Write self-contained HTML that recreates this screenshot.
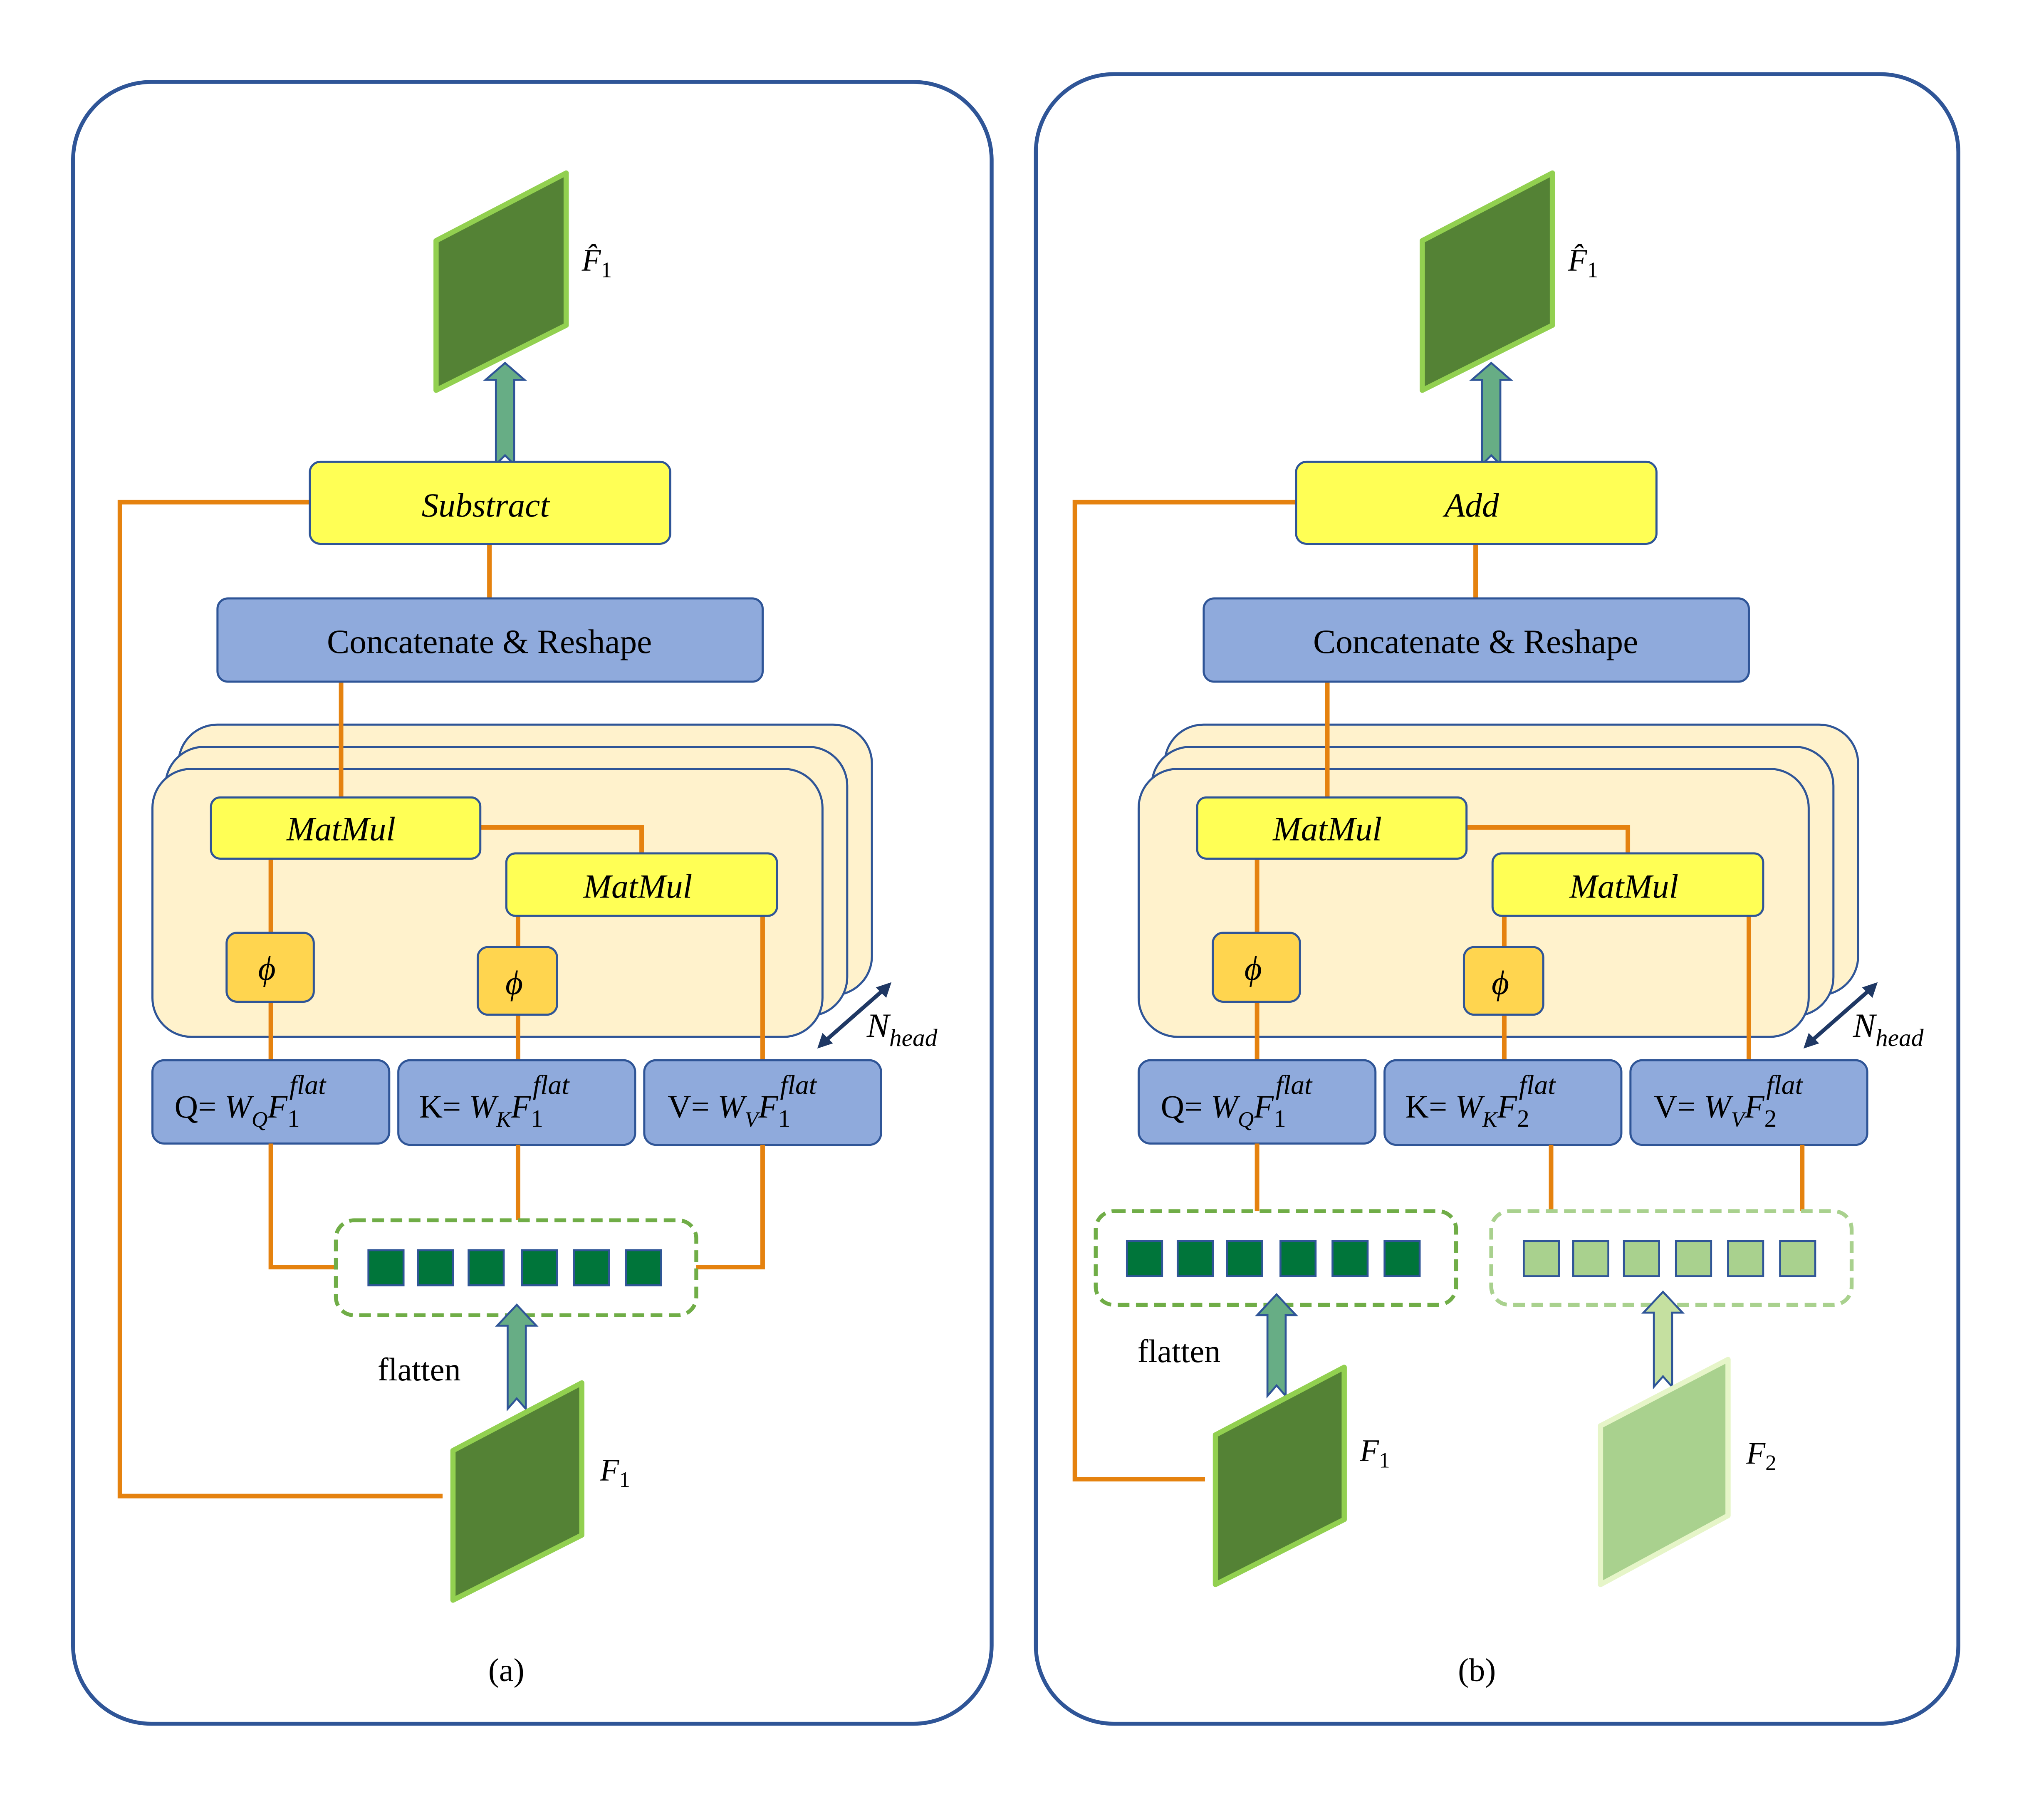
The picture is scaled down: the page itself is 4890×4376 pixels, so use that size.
<!DOCTYPE html>
<html><head><meta charset="utf-8"><style>
html,body{margin:0;padding:0;background:#fff}
svg{display:block}
text{font-family:"Liberation Serif",serif}
.m{font-style:italic}
</style></head><body>
<svg width="4890" height="4376" viewBox="0 0 1563 1399" xmlns="http://www.w3.org/2000/svg">
<defs>
<g id="panel">
  <!-- stacked cards -->
  <rect x="137" y="557" width="533" height="208" rx="30" fill="#FFF2CC" stroke="#2F5597" stroke-width="1.6"/>
  <rect x="127" y="574" width="524" height="207" rx="30" fill="#FFF2CC" stroke="#2F5597" stroke-width="1.6"/>
  <rect x="117" y="591" width="515" height="206" rx="30" fill="#FFF2CC" stroke="#2F5597" stroke-width="1.6"/>
  <!-- orange lines -->
  <g stroke="#E5820F" stroke-width="3.5" fill="none">
    <line x1="376" y1="418" x2="376" y2="460"/>
    <line x1="262" y1="524" x2="262" y2="613"/>
    <polyline points="369,636 493,636 493,656"/>
    <line x1="208" y1="660" x2="208" y2="815"/>
    <line x1="398" y1="704" x2="398" y2="815"/>
    <line x1="586" y1="704" x2="586" y2="815"/>
  </g>
  <!-- Concatenate -->
  <rect x="167" y="460" width="419" height="64" rx="8" fill="#8FAADC" stroke="#2F5597" stroke-width="1.6"/>
  <text x="376" y="502" font-size="26" text-anchor="middle">Concatenate &amp; Reshape</text>
  <!-- MatMul -->
  <rect x="162" y="613" width="207" height="47" rx="7" fill="#FFFF55" stroke="#2F5597" stroke-width="1.6"/>
  <text x="262" y="646" font-size="26" text-anchor="middle" class="m">MatMul</text>
  <rect x="389" y="656" width="208" height="48" rx="7" fill="#FFFF55" stroke="#2F5597" stroke-width="1.6"/>
  <text x="490" y="690" font-size="26" text-anchor="middle" class="m">MatMul</text>
  <!-- phi -->
  <rect x="174" y="717" width="67" height="53" rx="8" fill="#FFD54F" stroke="#2F5597" stroke-width="1.6"/>
  <text x="205" y="753" font-size="26" text-anchor="middle" class="m">ϕ</text>
  <rect x="367" y="728" width="61" height="52" rx="8" fill="#FFD54F" stroke="#2F5597" stroke-width="1.6"/>
  <text x="395" y="764" font-size="26" text-anchor="middle" class="m">ϕ</text>
  <!-- N_head -->
  <line x1="632" y1="802" x2="681" y2="759" stroke="#1F3864" stroke-width="3"/>
  <polygon points="628,806 632,794 640,802" fill="#1F3864"/>
  <polygon points="685,755 681,767 673,759" fill="#1F3864"/>
  <text x="666" y="797" font-size="26" class="m">N<tspan font-size="19" dy="7">head</tspan></text>
  <!-- Q K V boxes -->
  <rect x="117" y="815" width="182" height="64" rx="9" fill="#8FAADC" stroke="#2F5597" stroke-width="1.6"/>
  <rect x="306" y="815" width="182" height="65" rx="9" fill="#8FAADC" stroke="#2F5597" stroke-width="1.6"/>
  <rect x="495" y="815" width="182" height="65" rx="9" fill="#8FAADC" stroke="#2F5597" stroke-width="1.6"/>
  <!-- Output feature -->
  <polygon points="335,185 435,133 435,250 335,300" fill="#548235" stroke="#92D050" stroke-width="4" stroke-linejoin="round"/>
  <text x="447" y="208" font-size="24" class="m">F̂<tspan font-size="17" dy="5" font-style="normal">1</tspan></text>
  <polygon points="381,357 388,350 395,357 395,292 403,292 388,279 373,292 381,292" fill="#67AD85" stroke="#2F5597" stroke-width="1.5"/>
  <!-- top op box -->
  <rect x="238" y="355" width="277" height="63" rx="8" fill="#FFFF55" stroke="#2F5597" stroke-width="1.6"/>
</g>
</defs>

<!-- Panel frames -->
<rect x="56" y="63" width="706" height="1262" rx="60" fill="#fff" stroke="#2F5597" stroke-width="3"/>
<rect x="796" y="57" width="709" height="1268" rx="60" fill="#fff" stroke="#2F5597" stroke-width="3"/>

<!-- ===== Panel A ===== -->
<polyline points="340,1150 92,1150 92,386 238,386" fill="none" stroke="#E5820F" stroke-width="3.5"/>
<use href="#panel"/>
<text x="373" y="397" font-size="26" text-anchor="middle" class="m">Substract</text>
<text x="134" y="859" font-size="25">Q= <tspan class="m">W<tspan font-size="17" dy="7">Q</tspan><tspan dy="-7">F</tspan><tspan font-size="19" dy="7" font-style="normal">1</tspan><tspan font-size="21" dy="-25" dx="-8">flat</tspan></tspan></text>
<text x="322" y="859" font-size="25">K= <tspan class="m">W<tspan font-size="17" dy="7">K</tspan><tspan dy="-7">F</tspan><tspan font-size="19" dy="7" font-style="normal">1</tspan><tspan font-size="21" dy="-25" dx="-8">flat</tspan></tspan></text>
<text x="513" y="859" font-size="25">V= <tspan class="m">W<tspan font-size="17" dy="7">V</tspan><tspan dy="-7">F</tspan><tspan font-size="19" dy="7" font-style="normal">1</tspan><tspan font-size="21" dy="-25" dx="-8">flat</tspan></tspan></text>
<g stroke="#E5820F" stroke-width="3.5" fill="none">
  <polyline points="208,879 208,974 258,974"/>
  <line x1="398" y1="880" x2="398" y2="938"/>
  <polyline points="586,880 586,974 535,974"/>
</g>
<rect x="258" y="938" width="277" height="73" rx="14" fill="#fff" stroke="#70AD47" stroke-width="3" stroke-dasharray="9,5"/>
<g fill="#00753A" stroke="#2F5597" stroke-width="1.5">
  <rect x="283" y="961" width="27" height="27"/><rect x="321" y="961" width="27" height="27"/><rect x="360" y="961" width="27" height="27"/>
  <rect x="401" y="961" width="27" height="27"/><rect x="441" y="961" width="27" height="27"/><rect x="481" y="961" width="27" height="27"/>
</g>
<polygon points="390,1083 397,1075 404,1083 404,1019 412,1019 397,1003 382,1019 390,1019" fill="#67AD85" stroke="#2F5597" stroke-width="1.5"/>
<text x="322" y="1061" font-size="25" text-anchor="middle">flatten</text>
<polygon points="348,1115 447,1063 447,1180 348,1230" fill="#548235" stroke="#92D050" stroke-width="4" stroke-linejoin="round"/>
<text x="461" y="1138" font-size="24" class="m">F<tspan font-size="17" dy="5" font-style="normal">1</tspan></text>
<text x="389" y="1292" font-size="25" text-anchor="middle">(a)</text>

<!-- ===== Panel B ===== -->
<polyline points="926,1137 826,1137 826,386 996,386" fill="none" stroke="#E5820F" stroke-width="3.5"/>
<use href="#panel" transform="translate(758,0)"/>
<text x="1131" y="397" font-size="26" text-anchor="middle" class="m">Add</text>
<text x="892" y="859" font-size="25">Q= <tspan class="m">W<tspan font-size="17" dy="7">Q</tspan><tspan dy="-7">F</tspan><tspan font-size="19" dy="7" font-style="normal">1</tspan><tspan font-size="21" dy="-25" dx="-8">flat</tspan></tspan></text>
<text x="1080" y="859" font-size="25">K= <tspan class="m">W<tspan font-size="17" dy="7">K</tspan><tspan dy="-7">F</tspan><tspan font-size="19" dy="7" font-style="normal">2</tspan><tspan font-size="21" dy="-25" dx="-8">flat</tspan></tspan></text>
<text x="1271" y="859" font-size="25">V= <tspan class="m">W<tspan font-size="17" dy="7">V</tspan><tspan dy="-7">F</tspan><tspan font-size="19" dy="7" font-style="normal">2</tspan><tspan font-size="21" dy="-25" dx="-8">flat</tspan></tspan></text>
<g stroke="#E5820F" stroke-width="3.5" fill="none">
  <line x1="966" y1="879" x2="966" y2="931"/>
  <line x1="1192" y1="880" x2="1192" y2="931"/>
  <line x1="1385" y1="880" x2="1385" y2="931"/>
</g>
<rect x="842" y="931" width="277" height="72" rx="14" fill="#fff" stroke="#70AD47" stroke-width="3" stroke-dasharray="9,5"/>
<g fill="#00753A" stroke="#2F5597" stroke-width="1.5">
  <rect x="866" y="954" width="27" height="27"/><rect x="905" y="954" width="27" height="27"/><rect x="943" y="954" width="27" height="27"/>
  <rect x="984" y="954" width="27" height="27"/><rect x="1024" y="954" width="27" height="27"/><rect x="1064" y="954" width="27" height="27"/>
</g>
<rect x="1146" y="931" width="277" height="72" rx="14" fill="#fff" stroke="#A9D18E" stroke-width="3" stroke-dasharray="9,5"/>
<g fill="#A9D18E" stroke="#2F5597" stroke-width="1.5">
  <rect x="1171" y="954" width="27" height="27"/><rect x="1209" y="954" width="27" height="27"/><rect x="1248" y="954" width="27" height="27"/>
  <rect x="1288" y="954" width="27" height="27"/><rect x="1328" y="954" width="27" height="27"/><rect x="1368" y="954" width="27" height="27"/>
</g>
<polygon points="974,1073 981,1065 988,1073 988,1011 996,1011 981,995 966,1011 974,1011" fill="#67AD85" stroke="#2F5597" stroke-width="1.5"/>
<polygon points="1271,1066 1278,1058 1285,1066 1285,1009 1293,1009 1278,993 1263,1009 1271,1009" fill="#C5E0A0" stroke="#2F5597" stroke-width="1.5"/>
<text x="906" y="1047" font-size="25" text-anchor="middle">flatten</text>
<polygon points="934,1103 1033,1051 1033,1168 934,1218" fill="#548235" stroke="#92D050" stroke-width="4" stroke-linejoin="round"/>
<text x="1045" y="1123" font-size="24" class="m">F<tspan font-size="17" dy="5" font-style="normal">1</tspan></text>
<polygon points="1230,1096 1328,1045 1328,1165 1230,1218" fill="#A9D18E" stroke="#E6F5C8" stroke-width="4" stroke-linejoin="round"/>
<text x="1342" y="1125" font-size="24" class="m">F<tspan font-size="17" dy="5" font-style="normal">2</tspan></text>
<text x="1135" y="1292" font-size="25" text-anchor="middle">(b)</text>
</svg>
</body></html>
